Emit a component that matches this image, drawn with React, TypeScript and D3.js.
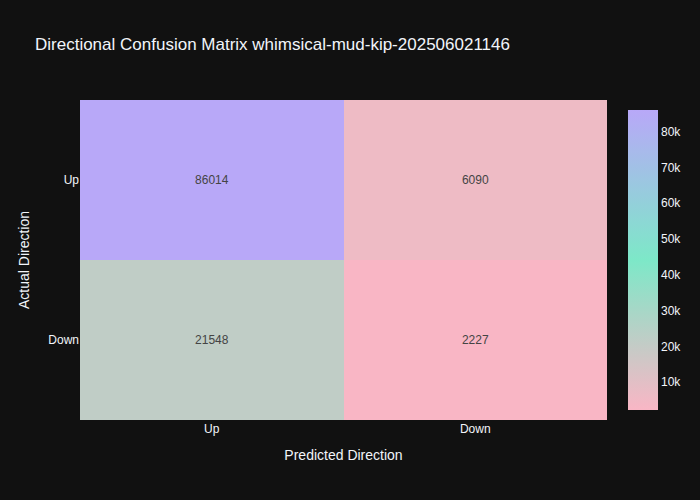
import React, { useEffect, useRef } from 'react';
import * as d3 from 'd3';

const predicted = ['Up', 'Down'];
const actual = ['Up', 'Down'];
// rows = actual, cols = predicted
const counts = [
  [86014, 6090],
  [21548, 2227],
];
const colorStops = ['#f9b6c5', '#7de8c8', '#b8a8f8'];
const cbTicks = [10000, 20000, 30000, 40000, 50000, 60000, 70000, 80000];

const W = 700;
const H = 500;
const FONT = '"Liberation Sans", Arial, sans-serif';

const App: React.FC = () => {
  const svgRef = useRef<SVGSVGElement>(null);

  useEffect(() => {
    if (!svgRef.current) return;
    const svg = d3.select(svgRef.current);
    svg.selectAll('*').remove();

    svg.append('rect').attr('width', W).attr('height', H).attr('fill', '#111111');

    const m = { left: 80, right: 607, top: 100, bottom: 420 };

    const x = d3.scaleBand().domain(predicted).range([m.left, m.right]);
    const y = d3.scaleBand().domain(actual).range([m.top, m.bottom]);

    const flat = counts.flat();
    const vmin = d3.min(flat) || 0;
    const vmax = d3.max(flat) || 1;
    const color = d3
      .scaleLinear<string>()
      .domain([vmin, (vmin + vmax) / 2, vmax])
      .range(colorStops)
      .interpolate(d3.interpolateRgb);

    const cells = actual.flatMap((a, i) =>
      predicted.map((p, j) => ({ a, p, v: counts[i][j] }))
    );

    // snap cell edges to whole pixels so neighbours meet without a seam
    const x0 = (p: string) => Math.round(x(p) || 0);
    const x1 = (p: string) => Math.round((x(p) || 0) + x.bandwidth());
    const y0 = (a: string) => Math.round(y(a) || 0);
    const y1 = (a: string) => Math.round((y(a) || 0) + y.bandwidth());

    const g = svg.append('g');
    g.selectAll('rect.cell')
      .data(cells)
      .enter()
      .append('rect')
      .attr('class', 'cell')
      .attr('x', (d) => x0(d.p))
      .attr('y', (d) => y0(d.a))
      .attr('width', (d) => x1(d.p) - x0(d.p))
      .attr('height', (d) => y1(d.a) - y0(d.a))
      .attr('shape-rendering', 'crispEdges')
      .attr('fill', (d) => color(d.v));

    g.selectAll('text.val')
      .data(cells)
      .enter()
      .append('text')
      .attr('x', (d) => (x(d.p) || 0) + x.bandwidth() / 2)
      .attr('y', (d) => (y(d.a) || 0) + y.bandwidth() / 2)
      .attr('dy', '0.35em')
      .attr('text-anchor', 'middle')
      .attr('font-family', FONT)
      .attr('font-size', 12)
      .attr('fill', '#444444')
      .text((d) => String(d.v));

    // x tick labels
    svg.selectAll('text.xt')
      .data(predicted)
      .enter()
      .append('text')
      .attr('x', (d) => (x(d) || 0) + x.bandwidth() / 2)
      .attr('y', m.bottom + 13)
      .attr('text-anchor', 'middle')
      .attr('font-family', FONT)
      .attr('font-size', 12)
      .attr('fill', '#f2f5fa')
      .text((d) => d);

    // y tick labels
    svg.selectAll('text.yt')
      .data(actual)
      .enter()
      .append('text')
      .attr('x', m.left - 1)
      .attr('y', (d) => (y(d) || 0) + y.bandwidth() / 2)
      .attr('dy', '0.35em')
      .attr('text-anchor', 'end')
      .attr('font-family', FONT)
      .attr('font-size', 12)
      .attr('fill', '#f2f5fa')
      .text((d) => d);

    svg.append('text')
      .attr('x', (m.left + m.right) / 2)
      .attr('y', 460)
      .attr('text-anchor', 'middle')
      .attr('font-family', FONT)
      .attr('font-size', 14)
      .attr('fill', '#f2f5fa')
      .text('Predicted Direction');

    svg.append('text')
      .attr('transform', `translate(29,${(m.top + m.bottom) / 2}) rotate(-90)`)
      .attr('text-anchor', 'middle')
      .attr('font-family', FONT)
      .attr('font-size', 14)
      .attr('fill', '#f2f5fa')
      .text('Actual Direction');

    svg.append('text')
      .attr('x', 35)
      .attr('y', 50)
      .attr('font-family', FONT)
      .attr('font-size', 17)
      .attr('fill', '#f2f5fa')
      .text('Directional Confusion Matrix whimsical-mud-kip-202506021146');

    // colorbar
    const cb = { x: 628, w: 30, top: 110, bottom: 410 };
    const cy = d3.scaleLinear().domain([vmin, vmax]).range([cb.bottom, cb.top]);
    const defs = svg.append('defs');
    const grad = defs
      .append('linearGradient')
      .attr('id', 'cbgrad')
      .attr('x1', 0)
      .attr('y1', 1)
      .attr('x2', 0)
      .attr('y2', 0);
    colorStops.forEach((c, i) => {
      grad.append('stop').attr('offset', i / (colorStops.length - 1)).attr('stop-color', c);
    });
    svg.append('rect')
      .attr('x', cb.x)
      .attr('y', cb.top)
      .attr('width', cb.w)
      .attr('height', cb.bottom - cb.top)
      .attr('fill', 'url(#cbgrad)');

    svg.selectAll('text.cbt')
      .data(cbTicks)
      .enter()
      .append('text')
      .attr('x', cb.x + cb.w + 3)
      .attr('y', (d) => cy(d))
      .attr('dy', '0.35em')
      .attr('font-family', FONT)
      .attr('font-size', 12)
      .attr('fill', '#f2f5fa')
      .text((d) => `${d / 1000}k`);
  }, []);

  return <svg ref={svgRef} width={W} height={H} style={{ display: 'block', position: 'absolute', left: 0, top: 0 }} />;
};

export default App;
